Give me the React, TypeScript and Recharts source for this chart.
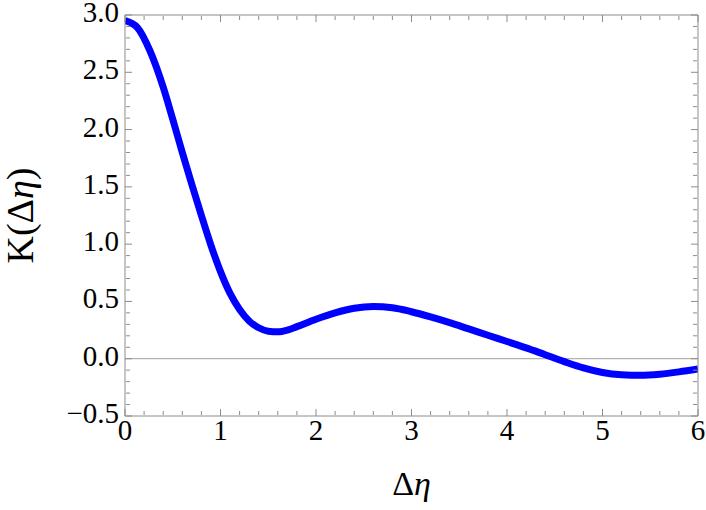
import { LineChart, Line, XAxis, YAxis, ReferenceLine } from "recharts";

// K(Δη)
const etaValues = [0, 0.13, 0.26, 0.4, 0.5, 0.6, 0.7, 0.8, 0.9, 1.0, 1.1, 1.2, 1.3, 1.4, 1.5, 1.6, 1.7, 1.8, 2.0, 2.2, 2.4, 2.6, 2.8, 3.0, 3.2, 3.4, 3.6, 3.8, 4.0, 4.2, 4.4, 4.6, 4.8, 5.0, 5.2, 5.4, 5.6, 5.8, 6.0];
const kValues = [2.95, 2.89, 2.69, 2.37, 2.09, 1.8, 1.52, 1.25, 0.99, 0.76, 0.57, 0.43, 0.33, 0.27, 0.24, 0.235, 0.25, 0.28, 0.345, 0.4, 0.44, 0.455, 0.445, 0.41, 0.365, 0.315, 0.26, 0.205, 0.15, 0.095, 0.035, -0.025, -0.08, -0.12, -0.14, -0.145, -0.135, -0.115, -0.09];

const xMajorTicks = [0, 1, 2, 3, 4, 5, 6];
const xMinorTicks = [0.2, 0.4, 0.6, 0.8, 1.2, 1.4, 1.6, 1.8, 2.2, 2.4, 2.6, 2.8, 3.2, 3.4, 3.6, 3.8, 4.2, 4.4, 4.6, 4.8, 5.2, 5.4, 5.6, 5.8];
const yMajorTicks = [-0.5, 0, 0.5, 1.0, 1.5, 2.0, 2.5, 3.0];
const yMinorTicks = [-0.4, -0.3, -0.2, -0.1, 0.1, 0.2, 0.3, 0.4, 0.6, 0.7, 0.8, 0.9, 1.1, 1.2, 1.3, 1.4, 1.6, 1.7, 1.8, 1.9, 2.1, 2.2, 2.3, 2.4, 2.6, 2.7, 2.8, 2.9];

const data = etaValues.map((eta, i) => ({ eta, k: kValues[i] }));

const FONT = "'Liberation Serif', 'Times New Roman', serif";
const FRAME = "#8c8c8c";

const fmtY = (v: number) => (v < 0 ? "\u2212" + Math.abs(v).toFixed(1) : v.toFixed(1));
const blank = () => "";

const XTick = (p: any) => (
  <text x={p.x} y={p.y} dy={20} textAnchor="middle" fontFamily={FONT} fontSize={29} fill="#000">
    {p.payload.value}
  </text>
);

const YTick = (p: any) => (
  <text x={p.x} y={p.y} dy={7} textAnchor="end" fontFamily={FONT} fontSize={29} fill="#000">
    {fmtY(p.payload.value)}
  </text>
);

const XLabel = (props: any) => {
  const vb = props.viewBox;
  return (
    <text x={vb.x + vb.width / 2} y={vb.y + vb.height - 15} textAnchor="middle" fontFamily={FONT} fontSize={34} fill="#000">
      Δ<tspan fontStyle="italic">η</tspan>
    </text>
  );
};

const YLabel = (props: any) => {
  const vb = props.viewBox;
  const cy = vb.y + vb.height / 2;
  return (
    <text x={33} y={cy} transform={`rotate(-90, 33, ${cy})`} textAnchor="middle" fontFamily={FONT} fontSize={38} fill="#000">
      K(Δ<tspan fontStyle="italic">η</tspan>)
    </text>
  );
};

const inner = { stroke: FRAME };

export default function App() {
  return (
    <div style={{ position: "absolute", left: 0, top: 0 }}>
      <LineChart width={706} height={510} data={data} margin={{ top: 15, right: 8, left: 0, bottom: 0 }}>
        <XAxis dataKey="eta" type="number" domain={[0, 6]} allowDataOverflow ticks={xMajorTicks} interval={0}
          tickLine={false} tickSize={0} tickMargin={4} tick={<XTick />} axisLine={inner}
          height={94} label={<XLabel />} />
        <XAxis xAxisId="bMaj" dataKey="eta" type="number" domain={[0, 6]} allowDataOverflow ticks={xMajorTicks} interval={0} mirror
          height={1} tickFormatter={blank} tickSize={7} tickLine={inner} axisLine={false} />
        <XAxis xAxisId="bMin" dataKey="eta" type="number" domain={[0, 6]} allowDataOverflow ticks={xMinorTicks} interval={0} mirror
          height={1} tickFormatter={blank} tickSize={4} tickLine={inner} axisLine={false} />
        <XAxis xAxisId="tMaj" dataKey="eta" orientation="top" type="number" domain={[0, 6]} allowDataOverflow ticks={xMajorTicks} interval={0} mirror
          height={1} tickFormatter={blank} tickSize={7} tickLine={inner} axisLine={inner} />
        <XAxis xAxisId="tMin" dataKey="eta" orientation="top" type="number" domain={[0, 6]} allowDataOverflow ticks={xMinorTicks} interval={0} mirror
          height={1} tickFormatter={blank} tickSize={4} tickLine={inner} axisLine={false} />

        <YAxis type="number" domain={[-0.5, 3]} allowDataOverflow ticks={yMajorTicks} interval={0}
          tickLine={false} tickSize={0} tickMargin={6} tick={<YTick />} axisLine={inner}
          width={125} label={<YLabel />} />
        <YAxis yAxisId="lMaj" dataKey="k" type="number" domain={[-0.5, 3]} allowDataOverflow ticks={yMajorTicks} interval={0} mirror
          width={1} tickFormatter={blank} tickSize={7} tickLine={inner} axisLine={false} />
        <YAxis yAxisId="lMin" dataKey="k" type="number" domain={[-0.5, 3]} allowDataOverflow ticks={yMinorTicks} interval={0} mirror
          width={1} tickFormatter={blank} tickSize={4} tickLine={inner} axisLine={false} />
        <YAxis yAxisId="rMaj" dataKey="k" orientation="right" type="number" domain={[-0.5, 3]} allowDataOverflow ticks={yMajorTicks} interval={0} mirror
          width={1} tickFormatter={blank} tickSize={7} tickLine={inner} axisLine={inner} />
        <YAxis yAxisId="rMin" dataKey="k" orientation="right" type="number" domain={[-0.5, 3]} allowDataOverflow ticks={yMinorTicks} interval={0} mirror
          width={1} tickFormatter={blank} tickSize={4} tickLine={inner} axisLine={false} />

        <ReferenceLine y={0} stroke="#a0a0a0" strokeWidth={1} />
        <Line type="monotone" dataKey="k" stroke="#0000ff" strokeWidth={7} dot={false} isAnimationActive={false} />
      </LineChart>
    </div>
  );
}
